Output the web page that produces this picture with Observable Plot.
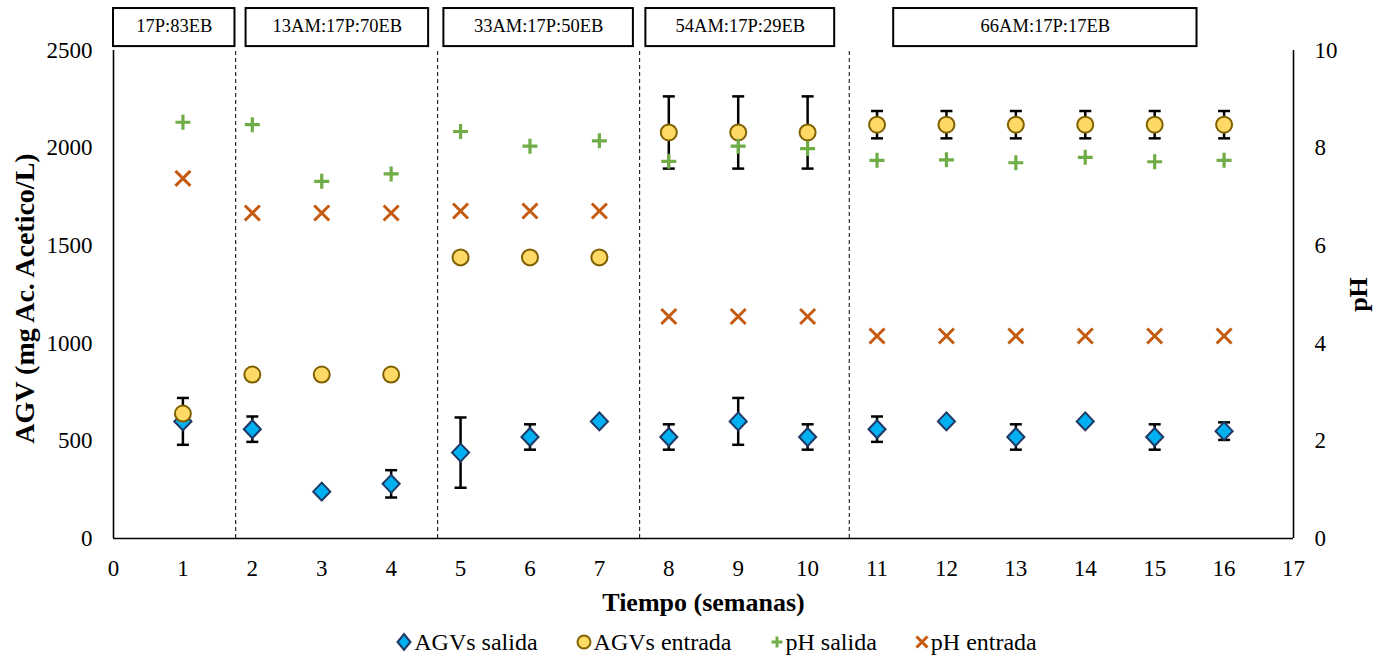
<!DOCTYPE html>
<html>
<head>
<meta charset="utf-8">
<script src="https://cdn.jsdelivr.net/npm/d3@7"></script>
<script src="https://cdn.jsdelivr.net/npm/@observablehq/plot@0.6"></script>
<style>
  body { margin: 0; background: #fff; font-family: "Liberation Serif", "Times New Roman", serif; }
  #legend { display: flex; justify-content: center; align-items: center; font-size: 24px; line-height: 28px; padding-top: 13px; padding-left: 48px; }
  #legend .item { display: flex; align-items: center; margin: 0 19px; }
  #legend svg { margin-right: 2px; }
</style>
</head>
<body>
<div id="chart"></div>
<div id="legend"></div>
<script>
const weeks = [1, 2, 3, 4, 5, 6, 7, 8, 9, 10, 11, 12, 13, 14, 15, 16];
const agvSalida = [600, 560, 240, 280, 440, 520, 600, 520, 600, 520, 560, 600, 520, 600, 520, 550];
const agvSalidaErr = [120, 65, 0, 70, 180, 65, 0, 65, 120, 65, 65, 0, 65, 0, 65, 45];
const agvEntrada = [640, 840, 840, 840, 1440, 1440, 1440, 2080, 2080, 2080, 2120, 2120, 2120, 2120, 2120, 2120];
const agvEntradaErr = [0, 0, 0, 0, 0, 0, 0, 185, 185, 185, 70, 70, 70, 70, 70, 70];
const phSalida = [8.53, 8.48, 7.32, 7.47, 8.34, 8.04, 8.15, 7.73, 8.04, 7.99, 7.75, 7.76, 7.70, 7.81, 7.72, 7.75];
const phEntrada = [7.38, 6.67, 6.67, 6.67, 6.71, 6.71, 6.71, 4.55, 4.55, 4.55, 4.15, 4.15, 4.15, 4.15, 4.15, 4.15];

const phaseLabels = ["17P:83EB", "13AM:17P:70EB", "33AM:17P:50EB", "54AM:17P:29EB", "66AM:17P:17EB"];
const phaseBoxStart = [0, 1.91, 4.76, 7.67, 11.24];
const phaseBoxEnd = [1.75, 4.54, 7.49, 10.39, 15.61];
const phaseBoundaries = [1.76, 4.67, 7.58, 10.6];

const yTicks = [0, 500, 1000, 1500, 2000, 2500];
const xTicks = d3.range(0, 18);
const phFactor = 250; // pH 0–10 mapped onto AGV 0–2500

const colors = {
  salidaFill: "#00B0F0", salidaStroke: "#1F3864",
  entradaFill: "#FFD966", entradaStroke: "#7F6000",
  phSalida: "#70AD47", phEntrada: "#C55A11"
};

const rows = weeks.map((w, i) => ({
  week: w,
  agvS: agvSalida[i], agvSE: agvSalidaErr[i],
  agvE: agvEntrada[i], agvEE: agvEntradaErr[i],
  phS: phSalida[i], phE: phEntrada[i]
}));
const errS = rows.filter(d => d.agvSE > 0);
const errE = rows.filter(d => d.agvEE > 0);
const phases = phaseLabels.map((l, i) => ({label: l, x1: phaseBoxStart[i], x2: phaseBoxEnd[i]}));

const capSymbol = { draw(ctx, size) { const r = Math.sqrt(size / Math.PI); ctx.moveTo(-r, 0); ctx.lineTo(r, 0); } };
const plusSymbol = { draw(ctx, size) { const r = Math.sqrt(size / Math.PI); ctx.moveTo(-r, 0); ctx.lineTo(r, 0); ctx.moveTo(0, -r); ctx.lineTo(0, r); } };
const timesSymbol = { draw(ctx, size) { const r = Math.sqrt(size / Math.PI); ctx.moveTo(-r, -r); ctx.lineTo(r, r); ctx.moveTo(-r, r); ctx.lineTo(r, -r); } };
const diamondSymbol = { draw(ctx, size) { const r = Math.sqrt(size / Math.PI); ctx.moveTo(0, -r); ctx.lineTo(r * 0.95, 0); ctx.lineTo(0, r); ctx.lineTo(-r * 0.95, 0); ctx.closePath(); } };

const font = "Liberation Serif, Times New Roman, serif";

const chart = Plot.plot({
  width: 1385,
  height: 615,
  marginLeft: 113,
  marginRight: 92,
  marginTop: 50,
  marginBottom: 77,
  style: { fontFamily: font, fontSize: "23px", background: "#fff", overflow: "visible" },
  x: { domain: [0, 17] },
  y: { domain: [0, 2500] },
  marks: [
    Plot.axisY({ ticks: yTicks, tickSize: 0, tickPadding: 21, tickFormat: d3.format("d"), label: null, fontSize: 23 }),
    Plot.axisY({ ticks: yTicks, anchor: "right", tickSize: 0, tickPadding: 21, tickFormat: d => String(d / phFactor), textAnchor: "start", label: null, fontSize: 23 }),
    Plot.axisX({ ticks: xTicks, tickSize: 0, tickPadding: 21, tickFormat: d3.format("d"), label: null, fontSize: 23 }),
    Plot.ruleX(phaseBoundaries, { y1: 0, y2: 2500, stroke: "#000", strokeWidth: 1, strokeDasharray: "4,3" }),
    Plot.ruleX([0, 17], { y1: 0, y2: 2500, stroke: "#000", strokeWidth: 1.6 }),
    Plot.ruleY([0], { x1: 0, x2: 17, stroke: "#000", strokeWidth: 1.6 }),
    Plot.rect(phases, { x1: "x1", x2: "x2", y1: 2520, y2: 2715, fill: "#fff", stroke: "#000", strokeWidth: 2 }),
    Plot.text(phases, { x: d => (d.x1 + d.x2) / 2, y: 2625, text: "label", fontSize: 18.5, fill: "#000" }),
    // error bars
    Plot.ruleX(errS, { x: "week", y1: d => d.agvS - d.agvSE, y2: d => d.agvS + d.agvSE, stroke: "#000", strokeWidth: 2.5 }),
    Plot.dot(errS, { x: "week", y: d => d.agvS - d.agvSE, symbol: capSymbol, r: 6, stroke: "#000", strokeWidth: 2.5, fill: "none" }),
    Plot.dot(errS, { x: "week", y: d => d.agvS + d.agvSE, symbol: capSymbol, r: 6, stroke: "#000", strokeWidth: 2.5, fill: "none" }),
    Plot.ruleX(errE, { x: "week", y1: d => d.agvE - d.agvEE, y2: d => d.agvE + d.agvEE, stroke: "#000", strokeWidth: 2.5 }),
    Plot.dot(errE, { x: "week", y: d => d.agvE - d.agvEE, symbol: capSymbol, r: 6, stroke: "#000", strokeWidth: 2.5, fill: "none" }),
    Plot.dot(errE, { x: "week", y: d => d.agvE + d.agvEE, symbol: capSymbol, r: 6, stroke: "#000", strokeWidth: 2.5, fill: "none" }),
    // series
    Plot.dot(rows, { x: "week", y: "agvS", symbol: diamondSymbol, r: 9, fill: colors.salidaFill, stroke: colors.salidaStroke, strokeWidth: 2 }),
    Plot.dot(rows, { x: "week", y: "agvE", symbol: "circle", r: 8, fill: colors.entradaFill, stroke: colors.entradaStroke, strokeWidth: 2 }),
    Plot.dot(rows, { x: "week", y: d => d.phS * phFactor, symbol: plusSymbol, r: 7.5, fill: "none", stroke: colors.phSalida, strokeWidth: 3.2 }),
    Plot.dot(rows, { x: "week", y: d => d.phE * phFactor, symbol: timesSymbol, r: 7.5, fill: "none", stroke: colors.phEntrada, strokeWidth: 3 }),
    // axis titles
    Plot.text(["AGV (mg Ac. Acetico/L)"], { frameAnchor: "left", textAnchor: "middle", lineAnchor: "middle", dx: -88, dy: 4, rotate: -90, fontWeight: "bold", fontSize: 28, fill: "#000" }),
    Plot.text(["pH"], { frameAnchor: "right", textAnchor: "middle", lineAnchor: "middle", dx: 65, rotate: -90, fontWeight: "bold", fontSize: 26, fill: "#000" }),
    Plot.text(["Tiempo (semanas)"], { frameAnchor: "bottom", textAnchor: "middle", lineAnchor: "middle", dy: 64, fontWeight: "bold", fontSize: 26, fill: "#000" })
  ]
});
document.getElementById("chart").appendChild(chart);

// legend
const legendItems = [
  { label: "AGVs salida", svg: `<svg width="16" height="22" viewBox="-8 -11 16 22"><path d="M0,-8L6.5,0L0,8L-6.5,0Z" fill="${colors.salidaFill}" stroke="${colors.salidaStroke}" stroke-width="2"/></svg>` },
  { label: "AGVs entrada", svg: `<svg width="16" height="22" viewBox="-8 -11 16 22"><circle r="6.5" fill="${colors.entradaFill}" stroke="${colors.entradaStroke}" stroke-width="2"/></svg>` },
  { label: "pH salida", svg: `<svg width="14" height="22" viewBox="-7 -11 14 22"><path d="M-5.5,0H5.5M0,-5.5V5.5" stroke="${colors.phSalida}" stroke-width="3" fill="none"/></svg>` },
  { label: "pH entrada", svg: `<svg width="14" height="22" viewBox="-7 -11 14 22"><path d="M-5.5,-5.5L5.5,5.5M-5.5,5.5L5.5,-5.5" stroke="${colors.phEntrada}" stroke-width="3" fill="none"/></svg>` }
];
const legend = document.getElementById("legend");
for (const it of legendItems) {
  const div = document.createElement("div");
  div.className = "item";
  div.innerHTML = it.svg + `<span>${it.label}</span>`;
  legend.appendChild(div);
}
</script>
</body>
</html>
